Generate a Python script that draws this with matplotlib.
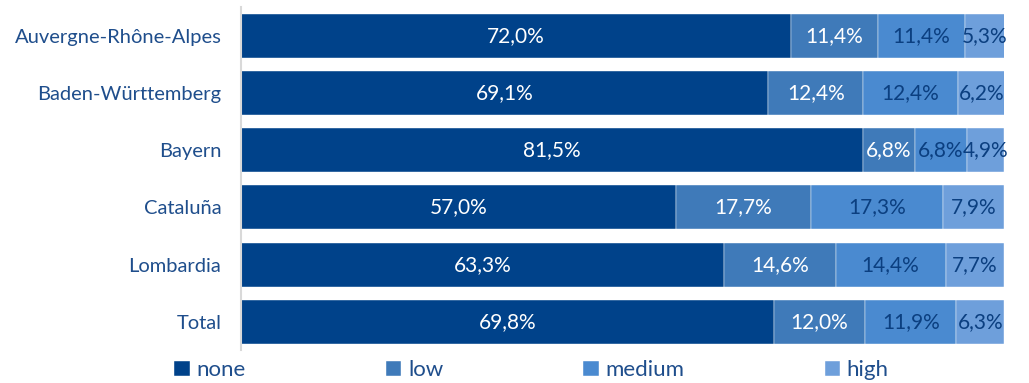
import matplotlib.pyplot as plt
import numpy as np

plt.rcParams['font.family'] = ['Lato', 'DejaVu Sans']

regions = ['Auvergne-Rhône-Alpes', 'Baden-Württemberg', 'Bayern', 'Cataluña', 'Lombardia', 'Total']
none = [72.0, 69.1, 81.5, 57.0, 63.3, 69.8]
low = [11.4, 12.4, 6.8, 17.7, 14.6, 12.0]
medium = [11.4, 12.4, 6.8, 17.3, 14.4, 11.9]
high = [5.3, 6.2, 4.9, 7.9, 7.7, 6.3]

series = [('none', none, '#00428a', 'white'),
          ('low', low, '#3f7ab9', 'white'),
          ('medium', medium, '#4a8ad0', '#0b3f80'),
          ('high', high, '#6e9fdb', '#0b3f80')]

fig = plt.figure(figsize=(10.29, 3.83), dpi=100)
ax = fig.add_axes([0.234, 0.085, 0.742, 0.896])

y = np.arange(len(regions))
left = np.zeros(len(regions))
for name, vals, col, tcol in series:
    vals = np.array(vals)
    ax.barh(y, vals, left=left, height=0.77, color=col, label=name,
            edgecolor='white', linewidth=0.3)
    for yi, l, v in zip(y, left, vals):
        ax.text(l + v / 2, yi, f'{v:.1f}%'.replace('.', ','), ha='center', va='center',
                color=tcol, fontsize=15)
    left = left + vals

ax.set_xlim(0, 100)
ax.set_ylim(len(regions) - 0.5, -0.5)
ax.set_yticks(y)
ax.set_yticklabels(regions, color='#1f4e8c', fontsize=14.5)
ax.tick_params(axis='y', length=0, pad=14)
ax.set_xticks([])
for s in ['top', 'right', 'bottom']:
    ax.spines[s].set_visible(False)
ax.spines['left'].set_color('#d9d9d9')
ax.spines['left'].set_linewidth(1.5)

fig.legend(loc='lower left', bbox_to_anchor=(0.15, -0.045), ncol=4, frameon=False,
           handlelength=0.7, handleheight=0.7, handletextpad=0.3, columnspacing=6.3,
           fontsize=16, labelcolor='#1f4e8c')

fig.savefig('out.png', dpi=100)
